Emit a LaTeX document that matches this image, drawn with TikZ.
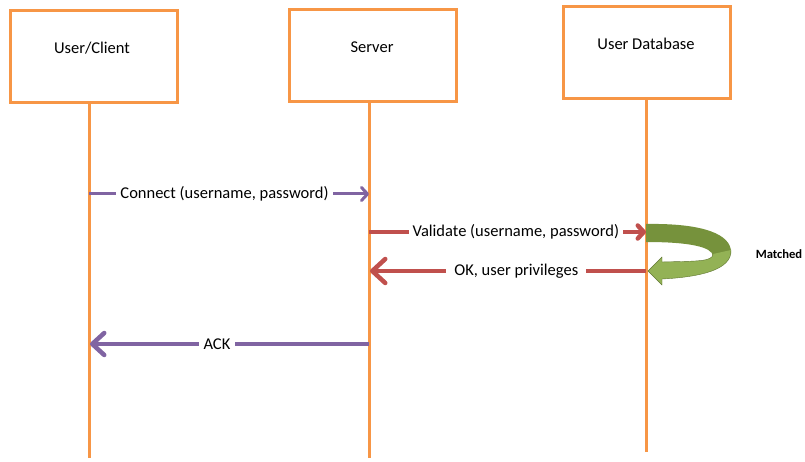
\documentclass[tikz,border=0pt]{standalone}
\usepackage{fontspec}
\setmainfont{Carlito}
\usetikzlibrary{arrows.meta}
\definecolor{ofOrange}{HTML}{F79646}
\definecolor{ofPurple}{HTML}{8064A2}
\definecolor{ofRed}{HTML}{C0504D}
\definecolor{ofGreen}{HTML}{9BBB59}
\definecolor{ofDkGreen}{HTML}{76923C}
\tikzset{
  actorbox/.style={draw=ofOrange, line width=3pt, minimum width=167pt, minimum height=92pt, inner sep=0pt},
  lifeline/.style={draw=ofOrange, line width=3pt},
  msgtext/.style={fill=white, inner sep=4pt, font=\fontsize{16.5}{18}\selectfont},
  boxtext/.style={font=\fontsize{16.5}{18}\selectfont},
  purplethin/.style={draw=ofPurple, line width=3pt, -{Straight Barb[length=6pt,width=13pt,round]}},
  purplethick/.style={draw=ofPurple, line width=4.5pt, -{Straight Barb[length=12pt,width=22pt,round]}},
  redthin/.style={draw=ofRed, line width=4.5pt, -{Straight Barb[length=6pt,width=13pt,round]}},
  redthick/.style={draw=ofRed, line width=4.5pt, -{Straight Barb[length=13pt,width=24pt,round]}},
}
\begin{document}
\begin{tikzpicture}[x=1pt,y=-1pt]
\useasboundingbox (0,0) rectangle (805,462);
% actor boxes
\node[actorbox] (uc) at (93.5,57) {};
\node[actorbox] (sv) at (373,56) {};
\node[actorbox] (db) at (646.5,53) {};
\node[boxtext] (uct) at (92,48) {User/Client};
\node[boxtext] (svt) at (372,47) {Server};
\node[boxtext] (dbt) at (646,44) {User Database};
% lifeline ends
\coordinate (ucE) at (89,458);
\coordinate (svE) at (369,458);
\coordinate (dbE) at (646,452);
\draw[lifeline] (uc.south -| ucE) -- (ucE);
\draw[lifeline] (sv.south -| svE) -- (svE);
\draw[lifeline] (db.south -| dbE) -- (dbE);
% message points
\coordinate (c1) at (89,194);
\coordinate (c2) at (369,194);
\coordinate (v1) at (369,232);
\coordinate (v2) at (646,232);
\coordinate (o1) at (646,271);
\coordinate (o2) at (370,271);
\coordinate (a1) at (369,344);
\coordinate (a2) at (90,344);
% green self arrow
\fill[ofDkGreen] (646,224) .. controls (705,223) and (731,235) .. (731,252)
  -- (713,256) .. controls (712,247) and (690,242) .. (646,242) -- cycle;
\fill[ofGreen!95!black] (731,250) .. controls (732,270) and (700,277) .. (662,279)
  -- (662,285) -- (648,271) -- (662,257) -- (662,262)
  .. controls (695,261) and (713,262) .. (713,254) -- cycle;
\draw[ofDkGreen!80!black, line width=0.4pt] (731,250) .. controls (732,270) and (700,277) .. (662,279)
  -- (662,285) -- (648,271) -- (662,257) -- (662,262)
  .. controls (695,261) and (713,262) .. (713,254);
% messages
\draw[purplethin] (c1) -- node[msgtext, pos=0.484] (ct) {Connect (username, password)} (c2);
\draw[redthin] (v1) -- node[msgtext, pos=0.53] (vt) {Validate (username, password)} (v2);
\draw[redthick] (o1) -- node[msgtext, pos=0.47, inner xsep=8pt] (ot) {OK, user privileges} (o2);
\draw[purplethick] (a1) -- node[msgtext, pos=0.545, inner xsep=5pt] (at) {ACK} (a2);
\node[font=\fontsize{12.6}{14}\selectfont\bfseries] (mt) at (779,254) {Matched};
\end{tikzpicture}
\end{document}
